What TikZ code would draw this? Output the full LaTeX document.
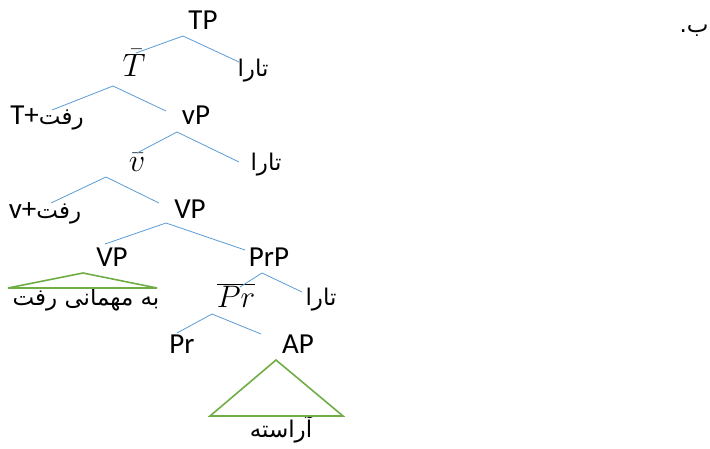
\documentclass[tikz,border=0pt]{standalone}
\usepackage{graphicx}
\usepackage{fontspec}
\setmainfont{Carlito}
\newfontfamily\arabicfont[Script=Arabic]{DejaVu Sans}
\TeXXeTstate=1
\definecolor{lineblue}{RGB}{91,155,213}
\definecolor{trigreen}{RGB}{112,173,71}
\newcommand\arsize{\fontsize{23}{28}\selectfont\arabicfont}
\newcommand\bigmath[2][1.3]{\scalebox{#1}{$#2$}}
\begin{document}
\begin{tikzpicture}[x=1pt,y=-1pt,
  lab/.style={anchor=base,inner sep=0pt,font=\fontsize{29}{34}\selectfont},
  ar/.style={anchor=base,inner sep=0pt,font=\arsize},
  edge/.style={draw=lineblue,line width=0.8pt},
  tri/.style={draw=trigreen,line width=1.6pt,line join=miter}]
\useasboundingbox (0,0) rectangle (710,448);
% labels
\node[lab] (TP) at (203,29) {TP};
\node[lab] (Tbar) at (134,76) {\bigmath{\bar{T}}};
\node[ar] (tara1) at (253,76) {\beginR تارا\endR};
\node[lab] (Trafta) at (47,124) {T+{\arsize\beginR رفت\endR}};
\node[lab] (vP) at (196,124) {vP};
\node[lab] (vbar) at (137,171) {\bigmath{\bar{v}}};
\node[ar] (tara2) at (266,170) {\beginR تارا\endR};
\node[lab] (vrafta) at (45,218) {v+{\arsize\beginR رفت\endR}};
\node[lab] (VP) at (190,218) {VP};
\node[lab] (VPl) at (112,266) {VP};
\node[lab] (PrP) at (269,266) {PrP};
\node[ar] (mehm) at (86,305) {\beginR به مهمانی رفت\endR};
\node[lab] (Prbar) at (236,307) {\bigmath[1.25]{\overline{Pr}}};
\node[ar] (tara3) at (321,305) {\beginR تارا\endR};
\node[lab] (Pr) at (182,353) {Pr};
\node[lab] (AP) at (298,353) {AP};
\node[ar] (araste) at (281,437) {\beginR آراسته\endR};
\node[ar] (be) at (694,32) {\beginR ب.\endR};
% branch points
\coordinate (a1) at (183,36); \coordinate (l1) at (136,53); \coordinate (r1) at (239,62);
\coordinate (a2) at (113,86); \coordinate (l2) at (52,110); \coordinate (r2) at (166,111);
\coordinate (a3) at (177,132); \coordinate (l3) at (137,153); \coordinate (r3) at (239,162);
\coordinate (a4) at (106,177); \coordinate (l4) at (51,203); \coordinate (r4) at (159,203);
\coordinate (a5) at (166,223); \coordinate (l5) at (105,244); \coordinate (r5) at (245,250);
\coordinate (a6) at (262,273); \coordinate (l6) at (240,287); \coordinate (r6) at (302,292);
\coordinate (a7) at (212,314); \coordinate (l7) at (177,333); \coordinate (r7) at (261,334);
\foreach \i in {1,...,7}{\draw[edge] (l\i) -- (a\i) -- (r\i);}
% triangles
\coordinate (t1a) at (83,273); \coordinate (t1l) at (8,288); \coordinate (t1r) at (157,288);
\coordinate (t2a) at (276,360); \coordinate (t2l) at (210,416); \coordinate (t2r) at (343,416);
\draw[tri] (t1a) -- (t1l) -- (t1r) -- cycle;
\draw[tri] (t2a) -- (t2l) -- (t2r) -- cycle;
\end{tikzpicture}
\end{document}
